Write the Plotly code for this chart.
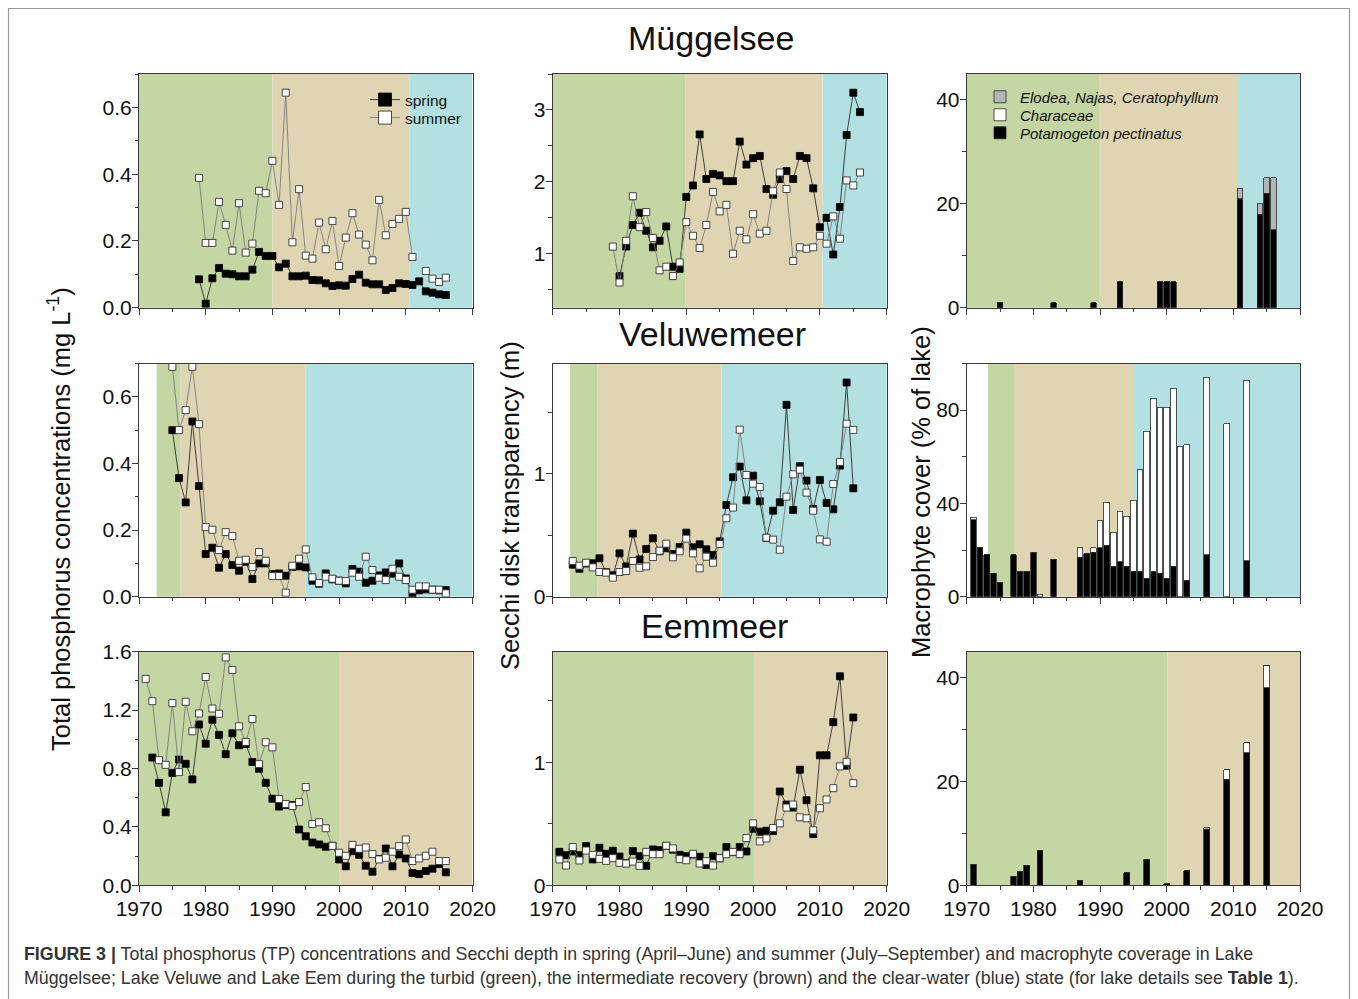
import plotly.graph_objects as go

# ---------------- page geometry helpers ----------------
W, H = 1358, 999


def px_x(X):
    return X / W


def px_y(Y):
    return 1 - Y / H


# ---------------- data ----------------
# Müggelsee – total phosphorus (mg/L)
YEARS_MU_TP = list(range(1979, 2017))
MU_TP_SPRING = [0.085, 0.012, 0.088, 0.119, 0.102, 0.100, 0.094, 0.094, 0.114, 0.167,
                0.155, 0.155, 0.121, 0.132, 0.094, 0.094, 0.096, 0.083, 0.082, 0.073,
                0.065, 0.067, 0.066, 0.086, 0.099, 0.075, 0.070, 0.070, 0.053, 0.059,
                0.073, 0.071, 0.068, 0.079, 0.049, 0.045, 0.040, 0.038]
MU_TP_SUMMER = [0.389, 0.194, 0.194, 0.317, 0.248, 0.171, 0.313, 0.165, 0.192, 0.350,
                0.343, 0.440, 0.308, 0.644, 0.196, 0.355, 0.156, 0.147, 0.255, 0.175,
                0.260, 0.125, 0.210, 0.283, 0.219, 0.189, 0.142, 0.323, 0.217, 0.251,
                0.266, 0.287, 0.152, None, 0.110, 0.087, 0.077, 0.090]

# Müggelsee – Secchi depth (m)
YEARS_MU_SD = list(range(1979, 2017))
MU_SD_SPRING = [None, 0.69, 1.10, 1.40, 1.57, 1.32, 1.09, 1.18, 1.38, 0.82,
                0.79, 1.79, 1.95, 2.66, 2.04, 2.11, 2.09, 2.01, 2.01, 2.56,
                2.24, 2.33, 2.36, 1.90, 1.82, 2.04, 2.15, 2.04, 2.36, 2.33,
                1.91, 1.37, 1.50, 0.99, 1.65, 2.65, 3.24, 2.97]
MU_SD_SUMMER = [1.10, 0.60, 1.18, 1.80, 1.37, 1.58, 1.22, 0.77, 0.82, 0.69,
                0.88, 1.44, 1.25, 1.08, 1.40, 1.86, 1.59, 1.68, 1.00, 1.32,
                1.20, 1.55, 1.28, 1.32, 1.87, 2.13, 1.90, 0.90, 1.09, 1.07,
                1.09, 1.25, 1.14, 1.52, 1.21, 2.02, 1.95, 2.13]

# Müggelsee – macrophyte cover (% of lake)
YEARS_MU_MAC = [1975, 1983, 1989, 1993, 1999, 2000, 2001, 2011, 2014, 2015, 2016]
MU_MAC_POTAMOGETON = [1, 1, 1, 5, 5, 5, 5, 21, 18, 22, 15]
MU_MAC_ELODEA = [0, 0, 0, 0, 0, 0, 0, 2, 2, 3, 10]

# Veluwemeer – total phosphorus (mg/L)
YEARS_VE_TP = list(range(1975, 2017))
VE_TP_SPRING = [0.500, 0.356, 0.283, 0.526, 0.332, 0.128, 0.147, 0.087, 0.128, 0.095,
                0.078, 0.105, 0.053, 0.100, 0.100, 0.068, 0.070, 0.063, 0.089, 0.091,
                0.088, 0.048, 0.039, 0.070, 0.052, 0.048, 0.040, 0.083, 0.075, 0.042,
                0.048, 0.064, 0.073, 0.069, 0.100, 0.055, 0.008, 0.019, 0.022, 0.021,
                0.019, 0.020]
VE_TP_SUMMER = [0.690, 0.500, 0.560, 0.690, 0.518, 0.209, 0.201, 0.140, 0.194, 0.182,
                0.108, 0.111, 0.089, 0.134, 0.108, 0.062, 0.062, 0.012, 0.093, 0.114,
                0.142, 0.058, 0.041, 0.060, 0.054, 0.048, 0.047, 0.072, 0.060, 0.120,
                0.080, 0.057, 0.050, 0.084, 0.060, 0.050, 0.021, 0.031, 0.031, 0.021,
                0.021, 0.010]

# Veluwemeer – Secchi depth (m)
YEARS_VE_SD = list(range(1973, 2016))
VE_SD_SPRING = [0.261, 0.228, 0.270, 0.272, 0.313, 0.200, 0.174, 0.353, 0.247, 0.514,
                0.304, 0.389, 0.476, 0.370, 0.394, 0.348, 0.405, 0.522, 0.402, 0.427,
                0.386, 0.340, 0.451, 0.747, 0.973, 1.060, 0.785, 0.986, 0.777, 0.478,
                0.701, 0.769, 1.563, 0.707, 1.063, 0.946, 0.715, 0.951, 0.764, 0.712,
                1.068, 1.745, 0.883]
VE_SD_SUMMER = [0.291, 0.253, 0.277, 0.239, 0.201, 0.196, 0.155, 0.201, 0.209, 0.291,
                0.236, 0.247, 0.323, 0.375, 0.432, 0.321, 0.370, 0.473, 0.353, 0.231,
                0.326, 0.277, 0.429, 0.639, 0.726, 1.361, 0.992, 0.921, 0.894, 0.481,
                0.465, 0.383, 0.815, 0.997, 1.035, 0.848, 0.701, 0.467, 0.448, 0.918,
                1.098, 1.410, 1.359]

# Veluwemeer – macrophyte cover (% of lake)
YEARS_VE_MAC = [1971, 1972, 1973, 1974, 1975, 1977, 1978, 1979, 1980, 1981, 1983,
                1987, 1988, 1989, 1990, 1991, 1992, 1993, 1994, 1995, 1996, 1997,
                1998, 1999, 2000, 2001, 2002, 2003, 2006, 2009, 2012]
VE_MAC_POTAMOGETON = [33, 21, 18, 10, 6, 18, 11, 11, 19, 0, 16,
                      17, 18.5, 19, 21, 22, 13, 15, 13, 11, 11, 8,
                      11, 10, 8, 13, 0, 7, 18, 0, 15.5]
VE_MAC_CHARACEAE = [1, 0, 0, 0, 0, 0, 0, 0, 0, 1, 0,
                    4, 0, 2, 11.6, 18.5, 14.6, 21.6, 21.5, 30.3, 43.4, 63,
                    74, 71, 73.3, 76.3, 64.4, 58.2, 76.1, 74.2, 77.3]

# Eemmeer – total phosphorus (mg/L)
YEARS_EE_TP = list(range(1971, 2017))
EE_TP_SPRING = [None, 0.875, 0.702, 0.500, 0.770, 0.861, 0.832, 0.725, 1.102, 0.970,
                1.134, 1.030, 0.898, 1.041, 0.959, 0.968, 0.845, 0.798, 0.702, 0.593,
                0.539, 0.550, 0.550, 0.382, 0.336, 0.293, 0.280, 0.264, 0.270, 0.177,
                0.130, 0.234, 0.209, 0.134, 0.093, 0.180, 0.252, 0.130, 0.211, 0.184,
                0.084, 0.077, 0.098, 0.114, 0.145, 0.089]
EE_TP_SUMMER = [1.414, 1.261, 0.857, 0.825, 1.248, 0.775, 1.257, 1.055, 1.177, 1.427,
                1.211, 1.175, 1.561, 1.475, 1.089, 0.982, 1.139, 0.830, 0.980, 0.945,
                0.591, 0.557, 0.543, 0.570, 0.673, 0.420, 0.432, 0.391, 0.270, 0.223,
                0.202, 0.277, 0.250, 0.259, 0.214, 0.177, 0.189, 0.230, 0.268, 0.314,
                0.166, 0.184, 0.202, 0.230, 0.166, 0.166]

# Eemmeer – Secchi depth (m)
YEARS_EE_SD = list(range(1971, 2016))
EE_SD_SPRING = [0.272, 0.245, 0.275, 0.245, 0.319, 0.210, 0.305, 0.256, 0.281, 0.234,
                0.180, 0.278, 0.237, 0.158, 0.292, 0.286, 0.320, 0.290, 0.248, 0.237,
                0.250, 0.232, 0.166, 0.237, 0.220, 0.311, 0.270, 0.311, 0.275, 0.460,
                0.436, 0.444, 0.441, 0.763, 0.657, 0.632, 0.940, 0.692, 0.417, 1.057,
                1.057, 1.327, 1.700, 0.973, 1.365]
EE_SD_SUMMER = [0.210, 0.161, 0.311, 0.202, 0.283, 0.248, 0.215, 0.199, 0.221, 0.183,
                0.177, 0.193, 0.158, 0.272, 0.253, 0.253, 0.322, 0.300, 0.213, 0.204,
                0.256, 0.177, 0.196, 0.161, 0.221, 0.253, 0.272, 0.253, 0.384, 0.504,
                0.357, 0.381, 0.466, 0.504, 0.632, 0.657, 0.553, 0.545, 0.447, 0.627,
                0.698, 0.790, 0.967, 1.005, 0.831]

# Eemmeer – macrophyte cover (% of lake)
YEARS_EE_MAC = [1971, 1977, 1978, 1979, 1981, 1987, 1994, 1997, 2000, 2003, 2006, 2009, 2012, 2015]
EE_MAC_POTAMOGETON = [4.1, 1.7, 2.6, 3.9, 6.8, 1.0, 2.4, 5.0, 0.3, 2.8, 10.8, 20.4, 25.5, 38.1]
EE_MAC_CHARACEAE = [0, 0, 0, 0, 0, 0, 0, 0, 0, 0, 0, 1.9, 2.0, 4.3]
EE_MAC_ELODEA = [0, 0, 0, 0, 0, 0, 0, 0, 0, 0, 0.3, 0, 0, 0]

# Ecological state periods (start, end, state) per panel
MU_TP_STATES = [(1970, 1990.0, "turbid"), (1990.0, 2010.6, "intermediate"), (2010.6, 2020, "clear")]
MU_SD_STATES = [(1970, 1989.9, "turbid"), (1989.9, 2010.4, "intermediate"), (2010.4, 2020, "clear")]
MU_MAC_STATES = [(1970, 1989.85, "turbid"), (1989.85, 2010.7, "intermediate"), (2010.7, 2020, "clear")]
VE_TP_STATES = [(1972.65, 1976.25, "turbid"), (1976.25, 1995.0, "intermediate"), (1995.0, 2020, "clear")]
VE_SD_STATES = [(1972.6, 1976.65, "turbid"), (1976.65, 1995.25, "intermediate"), (1995.25, 2020, "clear")]
VE_MAC_STATES = [(1973.2, 1977.1, "turbid"), (1977.1, 1995.1, "intermediate"), (1995.1, 2020, "clear")]
EE_TP_STATES = [(1970, 2000.1, "turbid"), (2000.1, 2020, "intermediate")]
EE_SD_STATES = [(1970, 2000.25, "turbid"), (2000.25, 2020, "intermediate")]
EE_MAC_STATES = [(1970, 2000.1, "turbid"), (2000.1, 2020, "intermediate")]

LAKES = ["Müggelsee", "Veluwemeer", "Eemmeer"]
X_TICKS = [1970, 1980, 1990, 2000, 2010, 2020]

# ---------------- styles ----------------
STATE_COLORS = {"turbid": "#c3d6a4", "intermediate": "#e0d5b3", "clear": "#b3e0e0"}
AX_COLOR = "#3a3a3a"
FONT = "Arial, Liberation Sans, sans-serif"
TICK_FONT = dict(family=FONT, size=21, color="#111")

# plot-area pixel boxes on the page
COL_X = [(139.0, 472.5), (552.7, 886.7), (966.7, 1300.0)]
ROW_Y = [(74.0, 307.7), (363.5, 596.7), (651.7, 885.3)]

Y_AXES = {
    1: dict(range=[0, 0.7], dtick=0.2, tick0=0, tickformat=".1f", minor=0.1),
    2: dict(range=[0.25, 3.5], dtick=1, tick0=0, tickformat="d", minor=0.5),
    3: dict(range=[0, 45], dtick=20, tick0=0, tickformat="d", minor=10),
    4: dict(range=[0, 0.7], dtick=0.2, tick0=0, tickformat=".1f", minor=0.1),
    5: dict(range=[0, 1.9], dtick=1, tick0=0, tickformat="d", minor=0.5),
    6: dict(range=[0, 100], dtick=40, tick0=0, tickformat="d", minor=20),
    7: dict(range=[0, 1.6], dtick=0.4, tick0=0, tickformat=".1f", minor=0.2),
    8: dict(range=[0, 1.9], dtick=1, tick0=0, tickformat="d", minor=0.5),
    9: dict(range=[0, 45], dtick=20, tick0=0, tickformat="d", minor=10),
}

fig = go.Figure()
layout = dict(
    template="none",
    width=W, height=H, autosize=False,
    margin=dict(l=0, r=0, t=0, b=0, pad=0, autoexpand=False),
    paper_bgcolor="white", plot_bgcolor="white",
    barmode="stack", showlegend=True,
    font=dict(family=FONT, color="#111"),
)

shapes = []
states_by_panel = {1: MU_TP_STATES, 2: MU_SD_STATES, 3: MU_MAC_STATES,
                   4: VE_TP_STATES, 5: VE_SD_STATES, 6: VE_MAC_STATES,
                   7: EE_TP_STATES, 8: EE_SD_STATES, 9: EE_MAC_STATES}

for r in range(3):
    for c in range(3):
        i = r * 3 + c + 1
        sfx = "" if i == 1 else str(i)
        x0p, x1p = COL_X[c]
        y0p, y1p = ROW_Y[r]
        ya = Y_AXES[i]
        layout["xaxis" + sfx] = dict(
            domain=[px_x(x0p), px_x(x1p)], anchor="y" + sfx, automargin=False,
            range=[1970, 2020], tickvals=X_TICKS,
            showticklabels=(r == 2), tickfont=TICK_FONT, ticklabelstandoff=-2,
            ticks="outside", ticklen=6, tickwidth=1, tickcolor=AX_COLOR,
            minor=dict(dtick=5, tick0=1970, ticks="outside", ticklen=3.5, tickcolor=AX_COLOR, showgrid=False),
            showline=True, mirror=True, linecolor=AX_COLOR, linewidth=1,
            showgrid=False, zeroline=False, fixedrange=True,
        )
        layout["yaxis" + sfx] = dict(
            domain=[px_y(y1p), px_y(y0p)], anchor="x" + sfx, automargin=False,
            range=ya["range"], dtick=ya["dtick"], tick0=ya["tick0"], tickformat=ya["tickformat"],
            tickfont=TICK_FONT, ticklabelstandoff=-4,
            ticks="outside", ticklen=6, tickwidth=1, tickcolor=AX_COLOR,
            minor=dict(dtick=ya["minor"], tick0=0, ticks="outside", ticklen=3.5, tickcolor=AX_COLOR, showgrid=False),
            showline=True, mirror=True, linecolor=AX_COLOR, linewidth=1,
            showgrid=False, zeroline=False, fixedrange=True,
        )
        for (s0, s1, st) in states_by_panel[i]:
            shapes.append(dict(type="rect", xref="x" + sfx, yref="y" + sfx + " domain",
                               x0=s0, x1=s1, y0=0, y1=1, fillcolor=STATE_COLORS[st],
                               line=dict(width=0), layer="below"))

SPRING_LINE = dict(color="#2e2e2e", width=0.9)
SUMMER_LINE = dict(color="#7a7a7a", width=0.9)
SPRING_MARK = dict(symbol="square", color="black", line=dict(color="black", width=0.8))
SUMMER_MARK = dict(symbol="square", color="white", line=dict(color="#333", width=0.9))


def add_lines(panel, years, spring, summer):
    sfx = "" if panel == 1 else str(panel)
    fig.add_trace(go.Scatter(
        x=years, y=spring, mode="lines+markers", name="spring",
        line=SPRING_LINE, marker=dict(size=7, **SPRING_MARK),
        xaxis="x" + sfx, yaxis="y" + sfx, showlegend=False,
    ))
    fig.add_trace(go.Scatter(
        x=years, y=summer, mode="lines+markers", name="summer",
        line=SUMMER_LINE, marker=dict(size=7, **SUMMER_MARK),
        xaxis="x" + sfx, yaxis="y" + sfx, showlegend=False,
    ))


BAR_LINE = dict(color="#2a2a2a", width=0.8)


def add_bar(panel, years, values, name, color, legend=None):
    sfx = "" if panel == 1 else str(panel)
    fig.add_trace(go.Bar(
        x=years, y=values, name=name, width=0.85,
        marker=dict(color=color, line=BAR_LINE),
        xaxis="x" + sfx, yaxis="y" + sfx,
        showlegend=legend is not None, legend=legend or "legend",
    ))


add_lines(1, YEARS_MU_TP, MU_TP_SPRING, MU_TP_SUMMER)
add_lines(2, YEARS_MU_SD, MU_SD_SPRING, MU_SD_SUMMER)
add_lines(4, YEARS_VE_TP, VE_TP_SPRING, VE_TP_SUMMER)
add_lines(5, YEARS_VE_SD, VE_SD_SPRING, VE_SD_SUMMER)
add_lines(7, YEARS_EE_TP, EE_TP_SPRING, EE_TP_SUMMER)
add_lines(8, YEARS_EE_SD, EE_SD_SPRING, EE_SD_SUMMER)

# legend entries for spring / summer (larger symbols as in the original legend)
fig.add_trace(go.Scatter(x=[None], y=[None], mode="lines+markers", name="spring",
                         line=SPRING_LINE, marker=dict(size=13, **SPRING_MARK),
                         showlegend=True, legend="legend"))
fig.add_trace(go.Scatter(x=[None], y=[None], mode="lines+markers", name="summer",
                         line=SUMMER_LINE, marker=dict(size=13, **SUMMER_MARK),
                         showlegend=True, legend="legend3"))

POT_NAME = "<i>Potamogeton pectinatus</i>"
CHA_NAME = "<i>Characeae</i>"
ELO_NAME = "<i>Elodea, Najas, Ceratophyllum</i>"
GREY = "#b5b5b5"

add_bar(3, YEARS_MU_MAC, MU_MAC_POTAMOGETON, POT_NAME, "black", legend="legend5")
add_bar(3, YEARS_MU_MAC, MU_MAC_ELODEA, ELO_NAME, GREY, legend="legend2")
add_bar(6, YEARS_VE_MAC, VE_MAC_POTAMOGETON, POT_NAME, "black")
add_bar(6, YEARS_VE_MAC, VE_MAC_CHARACEAE, CHA_NAME, "white", legend="legend4")
add_bar(9, YEARS_EE_MAC, EE_MAC_POTAMOGETON, POT_NAME, "black")
add_bar(9, YEARS_EE_MAC, EE_MAC_CHARACEAE, CHA_NAME, "white")
add_bar(9, YEARS_EE_MAC, EE_MAC_ELODEA, ELO_NAME, GREY)


def legend_at(x_px, y_px, size):
    return dict(x=px_x(x_px), y=px_y(y_px), xanchor="left", yanchor="middle",
                bgcolor="rgba(0,0,0,0)", borderwidth=0, traceorder="normal",
                font=dict(family=FONT, size=size, color="#111"), tracegroupgap=0)


layout["legend"] = legend_at(365, 100, 15.5)    # spring
layout["legend3"] = legend_at(365, 118, 15.5)   # summer
layout["legend2"] = legend_at(980, 97, 15)      # Elodea, Najas, Ceratophyllum
layout["legend4"] = legend_at(980, 115, 15)     # Characeae
layout["legend5"] = legend_at(980, 133, 15)     # Potamogeton pectinatus

annotations = []
# lake titles
for name, (cx, cy) in zip(LAKES, [(711, 38), (712, 334), (714, 626)]):
    annotations.append(dict(text=name, x=px_x(cx), y=px_y(cy), xref="paper", yref="paper",
                            showarrow=False, xanchor="center", yanchor="middle",
                            font=dict(family=FONT, size=34, color="#111")))
# y-axis titles
for txt, (cx, cy) in [("Total phosphorus concentrations (mg L<sup>-1</sup>)", (59, 519)),
                      ("Secchi disk transparency (m)", (510, 506)),
                      ("Macrophyte cover (% of lake)", (921, 492))]:
    annotations.append(dict(text=txt, x=px_x(cx), y=px_y(cy), xref="paper", yref="paper",
                            showarrow=False, xanchor="center", yanchor="middle", textangle=-90,
                            font=dict(family=FONT, size=25.5, color="#111")))
# caption
CAPTION_1 = ("<b>FIGURE 3 |</b> Total phosphorus (TP) concentrations and Secchi depth in spring (April–June) "
             "and summer (July–September) and macrophyte coverage in Lake")
CAPTION_2 = ("Müggelsee; Lake Veluwe and Lake Eem during the turbid (green), the intermediate recovery (brown) "
             "and the clear-water (blue) state (for lake details see <b>Table 1</b>).")
for txt, cy in [(CAPTION_1, 954), (CAPTION_2, 978)]:
    annotations.append(dict(text=txt, x=px_x(22), y=px_y(cy), xref="paper", yref="paper",
                            showarrow=False, xanchor="left", yanchor="middle",
                            font=dict(family=FONT, size=17.8, color="#333")))
layout["annotations"] = annotations

# outer frame
shapes.append(dict(type="rect", xref="paper", yref="paper",
                   x0=px_x(8.5), x1=px_x(1349.5), y0=-0.1, y1=px_y(8.5),
                   line=dict(color="#9a9a9a", width=1.2), fillcolor="rgba(0,0,0,0)", layer="above"))
layout["shapes"] = shapes

fig.update_layout(**layout)
fig.write_html(
    "out.html",
    config={"displayModeBar": False},
    post_script="document.documentElement.style.margin='0';document.body.style.margin='0';"
                "document.body.style.overflow='hidden';document.documentElement.style.overflow='hidden';",
)
